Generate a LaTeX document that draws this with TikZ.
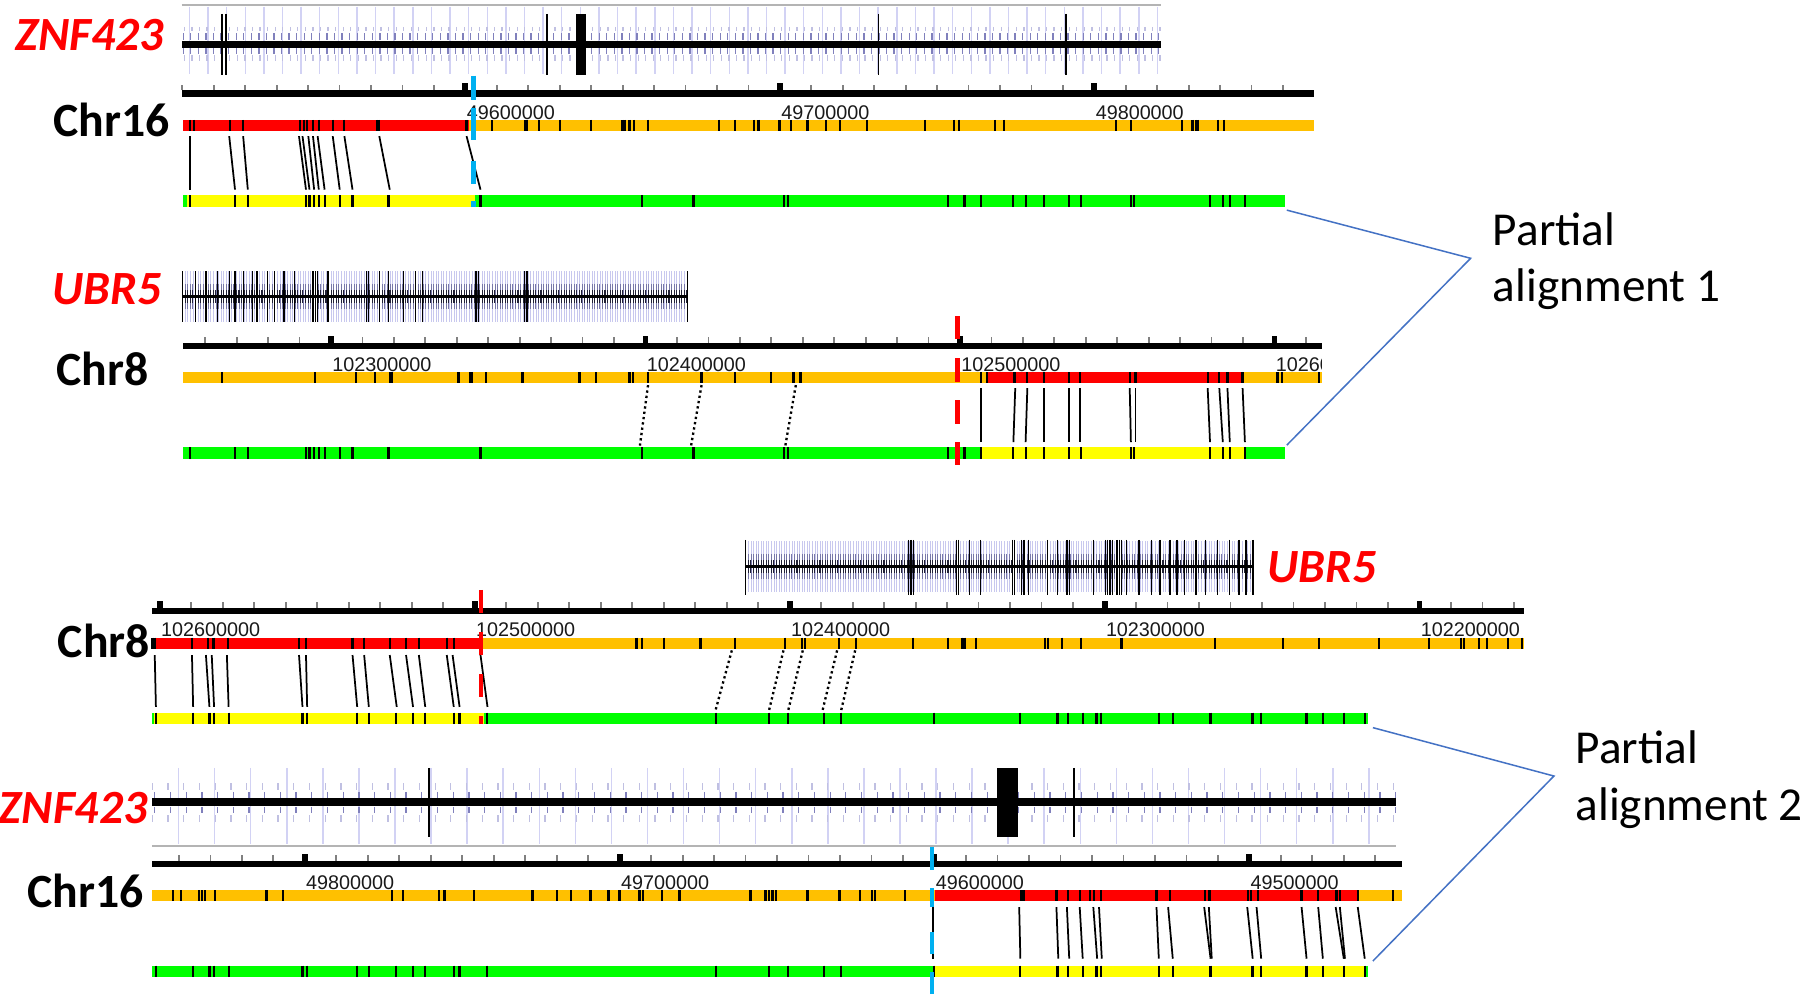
\documentclass[tikz,border=0pt]{standalone}
\usepackage{fontspec}
\setmainfont{Carlito}
\newfontfamily\numfont{Liberation Sans}
\definecolor{barorange}{HTML}{FFC000}
\definecolor{barred}{HTML}{FF0000}
\definecolor{baryellow}{HTML}{FFFF00}
\definecolor{bargreen}{HTML}{00FF00}
\definecolor{cutblue}{HTML}{00B0F0}
\definecolor{linkblue}{HTML}{4472C4}
\definecolor{gridlav}{HTML}{D2D2F4}
\definecolor{tickdark}{HTML}{8080BC}
\definecolor{ticklight}{HTML}{C0C0E2}
\definecolor{genegray}{HTML}{B4B4B4}
\definecolor{ubrlavc}{HTML}{C8C8EE}
\definecolor{ubrmidc}{HTML}{7878A8}
\definecolor{ubrdarkc}{HTML}{202036}

\newcommand\barmarks[3]{\foreach \m in {#3} \draw[barmark] (\m,#1) -- (\m,#2);}
\newcommand\linkset[3]{\foreach \a/\b in {#3} \draw[conn] (\a,#1) -- (\b,#2);}
\newcommand\dotset[3]{\foreach \a/\b in {#3} \draw[dotconn] (\a,#1) -- (\b,#2);}
% y, x0, x1, first major, spacing of minor ticks, list of majors
\newcommand\rulerline[6]{%
  \fill[black] (#2,#1-2.8) rectangle (#3,#1+2.8);
  \foreach \k in {-40,...,60}{%
    \pgfmathsetmacro\tx{#4+#5*\k}%
    \ifdim\tx pt>#2pt\relax\ifdim\tx pt<#3pt\relax
      \draw[rtick] (\tx,#1-2.8) -- (\tx,#1-7.5);
    \fi\fi}%
  \foreach \M in {#6} \fill[black] (\M-2.5,#1-8.8) rectangle (\M+2.5,#1);
}
% x0, x0+step, x1, ycenter
\newcommand\ubrtrack[4]{%
  \foreach \x in {#1,#2,...,#3} \draw[ubrlav] (\x,#4-22) -- (\x,#4+22);
  \foreach \x in {#1,#2,...,#3} \draw[ubrmid] (\x,#4-11) -- (\x,#4+11);
  \foreach \x in {#1,#2,...,#3} \draw[ubrdark] (\x,#4-5.5) -- (\x,#4+5.5);
  \draw[line width=3pt] (#1,#4) -- (#3,#4);
}

\begin{document}
\begin{tikzpicture}[x=1pt,y=-1pt,
  barmark/.style={line width=1.9pt,black},
  conn/.style={line width=1.5pt,black},
  dotconn/.style={line width=2pt,black,dash pattern=on 2pt off 2.6pt},
  cutline/.style={line width=4pt},
  rtick/.style={line width=1.5pt,black!50},
  exonline/.style={line width=1.5pt,black},
  ubrlav/.style={ubrlavc,line width=0.6pt},
  ubrmid/.style={ubrmidc,line width=0.7pt},
  ubrdark/.style={ubrdarkc,line width=0.9pt},
  ubrexon/.style={black,line width=1.1pt},
  numlbl/.style={font=\numfont\fontsize{17}{20}\selectfont,text=black!90,inner sep=0pt},
  genelbl/.style={font=\fontsize{41}{49}\selectfont\bfseries\itshape,text=barred,inner sep=0pt},
  chrlbl/.style={font=\fontsize{41}{49}\selectfont\bfseries,inner sep=0pt},
  palbl/.style={font=\fontsize{40.6}{48.5}\selectfont,inner sep=0pt},
  link/.style={linkblue,line width=1.3pt}]
\useasboundingbox (0,0) rectangle (1560,854.3);

%================ PANEL 1 : ZNF423 / Chr16 =================
\node[genelbl,anchor=base east] (gZa) at (141,43.5) {ZNF423};
\draw[genegray,line width=2pt] (156,4.3) -- (998,4.3);
\foreach \x in {162.8,178.8,...,998} \draw[gridlav,line width=1.3pt] (\x,5.7) -- (\x,63.6);
\foreach \x in {157.5,164,...,998} {
  \draw[tickdark,line width=1.1pt] (\x,28.7) -- (\x,34.4) (\x,41.5) -- (\x,46.4);
  \draw[ticklight,line width=1.1pt] (\x+1,23) -- (\x+1,27) (\x+1,47.5) -- (\x+1,52);}
\fill (156,35) rectangle (998,41);
\foreach \x in {190.6,194.4,470.2,755,916} \draw[exonline] (\x,12) -- (\x,64.5);
\fill (495.2,12) rectangle (503.6,64.5);

\rulerline{80.2}{156}{1129}{400}{27.03}{400,670.3,940.6}
\node[numlbl,anchor=base west] (l1a) at (401,102.6) {49600000};
\node[numlbl,anchor=base west] (l1b) at (671.3,102.6) {49700000};
\node[numlbl,anchor=base west] (l1c) at (941.6,102.6) {49800000};
\node[chrlbl,anchor=base east] (c1) at (146,117.5) {Chr16};

\fill[barorange] (157,103) rectangle (1129,113);
\fill[barred] (157,103) rectangle (403,113);
\barmarks{103}{113}{163,167,198,209,258,261,264,269,274,286,296,324,326,401,423,451,453,463,481,508,535,537,541,545,557,618,632,648,652,670,680,694,710,722,745,795,820,824,855,863,959,972,1016,1025,1028,1030,1047,1052}
\linkset{117}{163}{163/163,197/202,209/213,257/263,260/266,265/270,269/274,273/279,286/292,296/303,326/335,401/413}
\fill[bargreen] (157,168) rectangle (1104.5,178);
\fill[baryellow] (161,168) rectangle (408,178);
\barmarks{168}{178}{163,202,213,263,266,270,274,279,292,303,334,413,552,596,674,677,815,829,843,871,882,897,919,929,972,975,1040,1051,1057,1070}
\foreach \a/\b in {65/86,93/120,138/158,173/178} \draw[cutline,cutblue] (407,\a) -- (407,\b);

%================ PANEL 2 : UBR5 / Chr8 =================
\node[genelbl,anchor=base east] (gUa) at (139,262) {UBR5};
\ubrtrack{157}{159.2}{591}{255}
\foreach \x in {157,168,177,187,197,202,209,217,221,230,236,244,253,269,271,273,282,315,317,326,334,347,357,363,409,411,451,453,591} \draw[ubrexon] (\x,233) -- (\x,277);

\rulerline{297.5}{157}{1136}{284.5}{27.03}{284.5,554.8,825.1,1095.4}
\node[numlbl,anchor=base west] (l2a) at (285.5,319.3) {102300000};
\node[numlbl,anchor=base west] (l2b) at (555.8,319.3) {102400000};
\node[numlbl,anchor=base west] (l2c) at (826.1,319.3) {102500000};
\begin{scope}
  \clip (1090,300) rectangle (1136,322);
  \node[numlbl,anchor=base west] (l2d) at (1096.4,319.3) {102600000};
\end{scope}
\node[chrlbl,anchor=base east] (c2) at (128,331) {Chr8};

\fill[barorange] (157,320) rectangle (1136,329.5);
\fill[barred] (848,320) rectangle (1069,329.5);
\barmarks{320}{329.5}{191,271,306,322,335,337,394,404,406,418,449,498,512,541,544,557,603,632,663,682,688,843,848,872,883,897,919,928,971,976,1038,1048,1055,1068,1098,1102,1134}
\linkset{333.6}{380}{843/843,872.6/871,883/881.5,897/897,919/919,928/928,971/972,976/976,1038/1040,1048/1051,1055/1057,1068/1070}
\dotset{331}{383}{557/550,603/594,684/675}
\fill[bargreen] (157,384.5) rectangle (1104.5,394.5);
\fill[baryellow] (843,384.5) rectangle (1071,394.5);
\barmarks{384.5}{394.5}{163,202,213,263,266,270,274,279,292,303,334,413,552,596,674,677,815,829,843,871,882,897,919,929,972,975,1040,1051,1057,1070}
\foreach \a/\b in {272/291.5,308/328,344/364,380/400} \draw[cutline,barred] (823,\a) -- (823,\b);

% partial alignment 1
\coordinate (pa1a) at (1106,180.6);
\coordinate (pa1m) at (1264,222);
\coordinate (pa1b) at (1106,382.6);
\draw[link] (pa1a) -- (pa1m) -- (pa1b);
\node[palbl,anchor=base west] (pa1t) at (1283,211) {Partial};
\node[palbl,anchor=base west] (pa1u) at (1283,259.5) {alignment 1};

%================ PANEL 3 : Chr8 reversed / UBR5 =================
\node[genelbl,anchor=base west] (gUb) at (1089,500.5) {UBR5};
\ubrtrack{641}{643.2}{1077}{487}
\foreach \x in {641,781,783,785,822,824,833,843,870,872,878,880,884,900.6,909,917,919,940,950,952,954,956,960,962,964,968,979,990,997,1005.5,1011.6,1018,1028,1036,1046.6,1057,1065,1071,1077} \draw[ubrexon] (\x,464) -- (\x,511);

\rulerline{525}{130.5}{1310}{137.3}{27.07}{137.3,408,678.7,949.4,1220.1}
\node[numlbl,anchor=base west] (l3a) at (138.3,547.4) {102600000};
\node[numlbl,anchor=base west] (l3b) at (409,547.4) {102500000};
\node[numlbl,anchor=base west] (l3c) at (679.7,547.4) {102400000};
\node[numlbl,anchor=base west] (l3d) at (950.4,547.4) {102300000};
\node[numlbl,anchor=base west] (l3e) at (1221.1,547.4) {102200000};
\node[chrlbl,anchor=base east] (c3) at (129,565) {Chr8};

\fill[barorange] (130.5,548) rectangle (1310,557.5);
\fill[barred] (130.5,548) rectangle (414,557.5);
\barmarks{548}{557.5}{131,133,165,178.5,183.5,196,257,263,303,313,335,349,360,384,390,547,552,571,602,632,675,689,692,721,736,784.5,815,827,829,839,898.5,900.5,913,929,964,1044,1103,1134,1185,1228,1256,1258,1271,1278,1296,1308}
\linkset{563}{607.6}{133/134,165/166,177/180,182/184,195/196.5,257/260,263/264,303/307,313/317,335/341,349/355,360/365.5,384/390,389/395,413/419}
\dotset{559}{610.5}{629/615,673.4/661,690/677.5,719.5/707,735/723}
\fill[bargreen] (130.5,612.5) rectangle (1176,622);
\fill[baryellow] (132.5,612.5) rectangle (416,622);
\barmarks{612.5}{622}{134,166,180,184,196.5,260,264,307,317,340.5,355,365.5,390,395,418.5,615.5,661,677.5,708,723,802.5,877,909,918,930.6,942.5,946.6,996,1008,1040.5,1076.5,1084,1123,1137,1155,1173}
\foreach \a/\b in {507/527,543.5/563,579.5/599,615.6/622} \draw[cutline,barred] (413.4,\a) -- (413.4,\b);

%================ PANEL 4 : ZNF423 reversed / Chr16 =================
\node[genelbl,anchor=base east] (gZb) at (127,708) {ZNF423};
\draw[genegray,line width=2pt] (130.5,727) -- (1200,727);
\foreach \x in {153.5,184.5,...,1200} \draw[gridlav,line width=1.3pt] (\x,660) -- (\x,725);
\foreach \x in {133,146.5,...,1200} {
  \draw[tickdark,line width=1.1pt] (\x,680.7) -- (\x,686) (\x,693.6) -- (\x,699);
  \draw[ticklight,line width=1.1pt] (\x-2,673) -- (\x-2,679) (\x-2,700.8) -- (\x-2,706.5);}
\fill (130.5,686) rectangle (1200,692.8);
\foreach \x in {368.5,923} \draw[exonline] (\x,660) -- (\x,719);
\fill (857,660) rectangle (875,719);

\rulerline{742.4}{130.5}{1205}{262}{27.06}{262,532.6,803.2,1073.8}
\node[numlbl,anchor=base west] (l4a) at (263,764.5) {49800000};
\node[numlbl,anchor=base west] (l4b) at (533.6,764.5) {49700000};
\node[numlbl,anchor=base west] (l4c) at (804.2,764.5) {49600000};
\node[numlbl,anchor=base west] (l4d) at (1074.8,764.5) {49500000};
\node[chrlbl,anchor=base east] (c4) at (123.5,780) {Chr16};

\fill[barorange] (130.5,765) rectangle (1205,774.5);
\fill[barred] (803.7,765) rectangle (1167,774.5);
\barmarks{765}{774.5}{149,155.5,171,173.5,176,185,229,243,337,346.6,377,382,407.7,457.6,479,491,507.5,523,532.4,549.7,552.8,569,584,645,658,661,664,667,694,721.5,739,749.5,752,778,802,878,880,908,918,928,937,940,946,994,1005.5,1035.5,1039.6,1072.6,1075,1081,1118.7,1133,1148.7,1151.6,1167,1197}
\linkset{779.6}{824}{802/802,876/877,908/909.6,917/919,928/930.6,939.7/943,944.6/947,994/996,1004/1008,1035/1040.5,1039/1041.5,1072/1076.7,1080/1084,1118.7/1123,1133/1137,1148/1155,1151.6/1156,1167/1173}
\fill[bargreen] (130.5,830) rectangle (1176,840);
\fill[baryellow] (802,830) rectangle (1172,840);
\barmarks{830}{840}{134,166,180,184,196.5,260,264,307,317,340.5,355,365.5,390,395,418.5,615.5,661,677.5,708,723,802.5,877,909,918,930.6,942.5,946.6,996,1008,1040.5,1076.5,1084,1123,1137,1155,1173}
\foreach \a/\b in {728/748,763.5/779.6,801/820,835.5/854} \draw[cutline,cutblue] (801,\a) -- (801,\b);

% partial alignment 2
\coordinate (pa2a) at (1180,625.4);
\coordinate (pa2m) at (1335.6,667);
\coordinate (pa2b) at (1180,826);
\draw[link] (pa2a) -- (pa2m) -- (pa2b);
\node[palbl,anchor=base west] (pa2t) at (1354,656) {Partial};
\node[palbl,anchor=base west] (pa2u) at (1354,705) {alignment 2};
\end{tikzpicture}
\end{document}
